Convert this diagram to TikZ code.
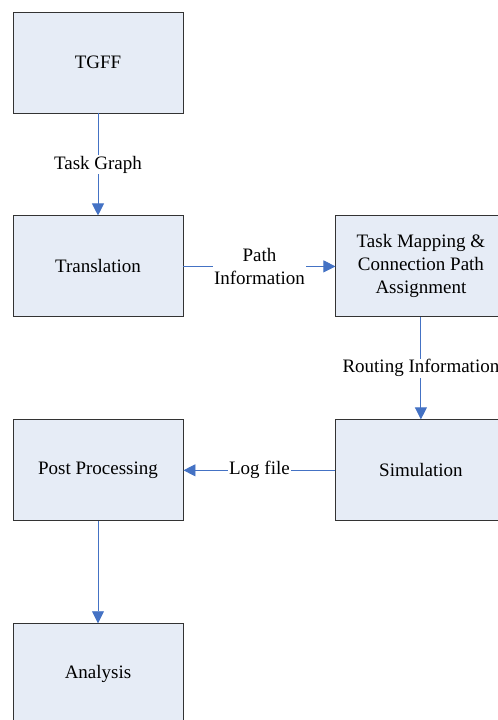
\documentclass[tikz,border=0pt]{standalone}
\usepackage{fontspec}
\setmainfont{Liberation Serif}
\usetikzlibrary{arrows.meta, positioning}
\definecolor{boxfill}{RGB}{230,236,246}
\definecolor{flowblue}{RGB}{68,114,196}

\begin{document}
\begin{tikzpicture}[
		x=1bp, y=-1bp,
		block/.style={rectangle, draw=black!80, fill=boxfill, line width=0.9bp, minimum width=170bp, minimum height=101bp, align=center, font=\fontsize{19bp}{23bp}\selectfont},
		flow/.style={-{Triangle[length=12bp, width=12bp]}, draw=flowblue, line width=0.9bp},
		lbl/.style={fill=white, inner sep=1bp, align=center, font=\fontsize{19bp}{23bp}\selectfont},
		node distance=102bp and 152bp
		]
		\useasboundingbox (0,0) rectangle (498,720);
		
		% Bloky
		\node[block] (tgff) at (98,62.5) {TGFF};
		\node[block, below=of tgff] (trans) {Translation};
		\node[block, right=of trans] (map) {Task Mapping \&\\Connection Path\\Assignment};
		\node[block, below=of map] (sim) {Simulation};
		\node[block, below=of trans] (post) {Post Processing};
		\node[block, below=of post] (ana) {Analysis};
		
		% Toky
		\draw[flow] (tgff) -- node[lbl] {Task Graph} (trans);
		\draw[flow] (trans) -- node[lbl] {Path\\Information} (map);
		\draw[flow] (map) -- node[lbl] {Routing Information} (sim);
		\draw[flow] (sim) -- node[lbl] {Log file} (post);
		\draw[flow] (post) -- (ana);
		
\end{tikzpicture}
\end{document}
